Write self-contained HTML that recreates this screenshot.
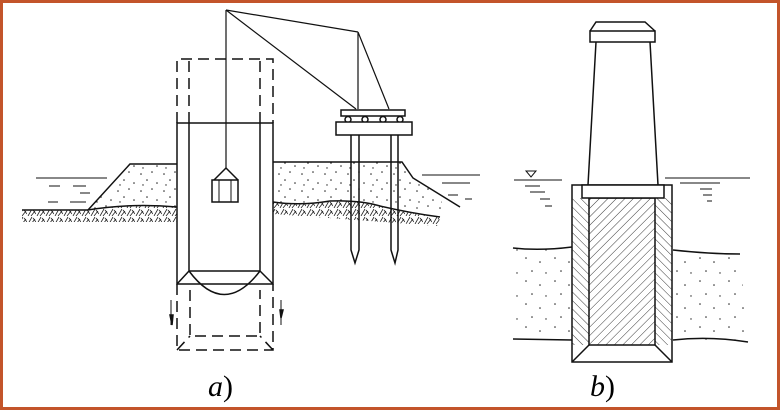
<!DOCTYPE html>
<html><head><meta charset="utf-8"><style>
html,body{margin:0;padding:0;background:#fff;}
svg{display:block;}
</style></head><body>
<svg width="780" height="411" viewBox="0 0 780 411" xmlns="http://www.w3.org/2000/svg">
<defs>
<pattern id="dots" width="23" height="17" patternUnits="userSpaceOnUse">
<circle cx="3" cy="4" r="0.8" fill="#222"/><circle cx="14" cy="2" r="0.8" fill="#222"/>
<circle cx="9" cy="10" r="0.8" fill="#222"/><circle cx="19" cy="13" r="0.8" fill="#222"/>
<circle cx="5" cy="15" r="0.7" fill="#222"/>
</pattern>
<pattern id="dots2" width="29" height="23" patternUnits="userSpaceOnUse">
<circle cx="4" cy="5" r="0.8" fill="#222"/><circle cx="18" cy="9" r="0.8" fill="#222"/>
<circle cx="10" cy="18" r="0.8" fill="#222"/><circle cx="24" cy="20" r="0.7" fill="#222"/>
</pattern>
<pattern id="hatch" width="9" height="8" patternUnits="userSpaceOnUse">
<path d="M1 8 L5 1 M4 8 L8 3 M6 2 L9 6" stroke="#222" stroke-width="0.8" fill="none"/>
</pattern>
<pattern id="hl" width="6" height="6" patternUnits="userSpaceOnUse" patternTransform="rotate(45)">
<line x1="0" y1="0" x2="0" y2="6" stroke="#222" stroke-width="0.9"/>
</pattern>
<pattern id="hr" width="6" height="6" patternUnits="userSpaceOnUse" patternTransform="rotate(-45)">
<line x1="0" y1="0" x2="0" y2="6" stroke="#222" stroke-width="0.9"/>
</pattern>
</defs>
<rect x="1.5" y="1.5" width="777" height="407" fill="#fff" stroke="#c3542a" stroke-width="3"/>
<g fill="none" stroke="#111" stroke-width="1.5">
<path d="M88 210 L130 164 L177 164 L177 207 L140 206 Q120 205 88 210 Z" fill="url(#dots)" stroke="none"/>
<path d="M273 162 L402 162 L413 178 L440 195 L445 214 Q400 205 370 203 Q330 200 300 205 L273 202 Z" fill="url(#dots)" stroke="none"/>
<path d="M88 210 L130 164 L177 164"/>
<path d="M273 162 L402 162 L413 178 L460 207"/>
<path d="M22 210 L88 210 Q130 203 177 207" />
<path d="M273 202 Q300 206 330 201 Q360 200 380 206 Q410 213 440 217"/>
<path d="M22 210 L88 210 Q130 203 177 207 L177 222 L22 222 Z" fill="url(#hatch)" stroke="none"/>
<path d="M273 202 Q300 206 330 201 Q360 200 380 206 Q410 213 440 217 L438 226 L273 214 Z" fill="url(#hatch)" stroke="none"/>
<path d="M36 178 L107 178 M49 186 L60 186 M73 186 L86 186 M80 193 L90 193 M48 202 L58 202 M70 202 L86 202" stroke-width="1"/>
<path d="M422 175 L480 175 M442 183 L470 183 M448 195 L458 195 M465 199 L472 199" stroke-width="1"/>
<rect x="177" y="123" width="96" height="161" fill="#fff"/>
<path d="M189 123 L189 271 L260 271 L260 123 M177 284 L189 271 M273 284 L260 271"/>
<path d="M189 271 Q224 318 260 271"/>
<g stroke-dasharray="11,6">
<path d="M177 123 L177 59 L273 59 L273 123 M189 123 L189 59 M260 123 L260 59"/>
<path d="M177 284 L177 350 L273 350 L273 284 M190 290 L190 336 L260 336 L260 290 M177 350 L190 336 M273 350 L260 336"/>
</g>
<path d="M171 300 L171 325 M281 300 L281 325" stroke-width="1"/>
<path d="M170 315 L172 325 L173 315 Z M280 310 L281 318 L283 310 Z" fill="#111"/>
<path d="M226 10 L226 168 M226 10 L358 32 M226 10 L356 109 M358 32 L358 109 M358 32 L389 109" stroke-width="1.2"/>
<path d="M226 168 L214 180 M226 168 L238 180"/>
<rect x="212" y="180" width="26" height="22" fill="#fff"/>
<path d="M219 180 L219 202 M231 180 L231 202" stroke-width="1"/>
<rect x="341" y="110" width="64" height="6"/>
<circle cx="348" cy="119.5" r="3"/><circle cx="365" cy="119.5" r="3"/><circle cx="383" cy="119.5" r="3"/><circle cx="400" cy="119.5" r="3"/>
<rect x="336" y="122" width="76" height="13" fill="#fff"/>
<path d="M351 135 L351 250 L355 263 L359 250 L359 135 M391 135 L391 250 L395 263 L398 250 L398 135"/>
<path d="M513 248 Q540 251 572 247 L572 339 L513 339 Z" fill="url(#dots2)" stroke="none"/>
<path d="M673 250 Q710 254 740 254 L748 342 Q710 339 673 340 Z" fill="url(#dots2)" stroke="none"/>
<path d="M513 248 Q540 251 572 247 M673 250 Q710 254 740 254 M513 339 L572 340 M673 340 Q710 336 748 342"/>
<path d="M526 171 L536 171 L531 177 Z" stroke-width="1"/>
<path d="M514 180 L562 180 M525 186 L540 186 M530 192 L545 192 M540 199 L550 199 M545 206 L552 206" stroke-width="1"/>
<path d="M665 178 L750 178 M680 183 L720 183 M700 189 L712 189 M703 195 L712 195 M707 201 L712 201" stroke-width="1"/>
<rect x="572" y="185" width="100" height="177" fill="#fff"/>
<path d="M572 198 L589 198 L589 345 L572 345 Z M655 198 L672 198 L672 345 L655 345 Z" fill="url(#hr)" stroke="none"/>
<rect x="589" y="198" width="66" height="147" fill="url(#hl)"/>
<rect x="582" y="185" width="82" height="13" fill="#fff"/>
<path d="M589 345 L572 362 M655 345 L672 362"/>
<path d="M588 185 L596 42 M658 185 L650 42"/>
<rect x="590" y="31" width="65" height="11" fill="#fff"/>
<path d="M590 31 L596 22 L645 22 L655 31"/>
</g>
<text x="208" y="396" font-family="Liberation Serif, serif" font-style="italic" font-size="30">a<tspan font-style="normal">)</tspan></text>
<text x="590" y="396" font-family="Liberation Serif, serif" font-style="italic" font-size="30">b<tspan font-style="normal">)</tspan></text>
</svg>
</body></html>
